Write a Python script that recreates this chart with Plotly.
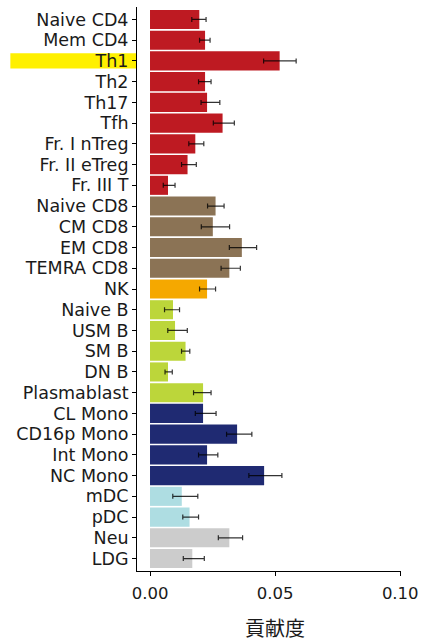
import plotly.graph_objects as go

# Cell types, top to bottom
cell_types = [
    "Naive CD4", "Mem CD4", "Th1", "Th2", "Th17", "Tfh", "Fr. I nTreg",
    "Fr. II eTreg", "Fr. III T", "Naive CD8", "CM CD8", "EM CD8", "TEMRA CD8",
    "NK", "Naive B", "USM B", "SM B", "DN B", "Plasmablast", "CL Mono",
    "CD16p Mono", "Int Mono", "NC Mono", "mDC", "pDC", "Neu", "LDG",
]

# Contribution (mean) and error interval bounds
contribution = [
    0.0197, 0.0220, 0.0518, 0.0220, 0.0228, 0.0290, 0.0181,
    0.0150, 0.0072, 0.0262, 0.0251, 0.0367, 0.0317,
    0.0228, 0.0092, 0.0100, 0.0142, 0.0072, 0.0212, 0.0212,
    0.0348, 0.0228, 0.0456, 0.0127, 0.0158, 0.0317, 0.0169,
]
err_low = [
    0.0167, 0.0198, 0.0454, 0.0194, 0.0204, 0.0253, 0.0155,
    0.0126, 0.0053, 0.0230, 0.0205, 0.0317, 0.0284,
    0.0198, 0.0058, 0.0071, 0.0126, 0.0060, 0.0174, 0.0181,
    0.0306, 0.0194, 0.0395, 0.0091, 0.0131, 0.0273, 0.0133,
]
err_high = [
    0.0224, 0.0240, 0.0584, 0.0244, 0.0279, 0.0337, 0.0215,
    0.0185, 0.0100, 0.0296, 0.0318, 0.0426, 0.0361,
    0.0262, 0.0118, 0.0149, 0.0159, 0.0089, 0.0244, 0.0264,
    0.0407, 0.0271, 0.0527, 0.0191, 0.0194, 0.0370, 0.0217,
]

# Lineage group of each cell type
lineage = (
    ["CD4"] * 9 + ["CD8"] * 4 + ["NK"] + ["B"] * 5 + ["Mono"] * 4
    + ["DC"] * 2 + ["Gran"] * 2
)
lineage_colors = {
    "CD4": "#BE1A22",
    "CD8": "#8B7355",
    "NK": "#F5A800",
    "B": "#BCD63A",
    "Mono": "#1F2A72",
    "DC": "#AEDDE2",
    "Gran": "#CCCCCC",
}

highlight = "Th1"
x_ticks = [0.0, 0.05, 0.10]
x_tick_text = ["0.00", "0.05", "0.10"]
x_title = "貢献度"

font_family = "DejaVu Sans, sans-serif"
n = len(cell_types)

# plot area in pixels
W, H = 426, 643
ML, MR, MT, MB = 137, 18, 7, 72
plot_h = H - MT - MB

fig = go.Figure(
    go.Bar(
        x=contribution,
        y=cell_types,
        orientation="h",
        marker=dict(color=[lineage_colors[g] for g in lineage], line=dict(width=0)),
        error_x=dict(
            type="data",
            symmetric=False,
            array=[h - c for h, c in zip(err_high, contribution)],
            arrayminus=[c - l for c, l in zip(contribution, err_low)],
            color="rgba(0,0,0,0.8)",
            thickness=1.2,
            width=2.5,
        ),
        width=0.92,
        hoverinfo="x+y",
    )
)

# Highlighted label band
hi = cell_types.index(highlight)
fig.add_shape(
    type="rect",
    xref="paper", yref="y",
    x0=-130 / (W - ML - MR), x1=0.0,
    y0=hi - 0.37, y1=hi + 0.37,
    fillcolor="#FFF000",
    line=dict(width=0),
    layer="below",
)

# Axis title, centred on the 0.05 tick
fig.add_annotation(
    x=0.05, xref="x",
    y=-(628 - (H - MB)) / plot_h, yref="paper",
    yanchor="middle",
    text=x_title,
    showarrow=False,
    font=dict(family="Noto Sans CJK JP", size=20, color="#1a1a1a"),
)

fig.update_layout(
    width=W,
    height=H,
    margin=dict(l=ML, r=MR, t=MT, b=MB),
    paper_bgcolor="white",
    plot_bgcolor="white",
    showlegend=False,
    font=dict(family=font_family, size=17.5, color="#1a1a1a"),
    xaxis=dict(
        range=[-0.0052, 0.1003],
        tickmode="array",
        tickvals=x_ticks,
        ticktext=x_tick_text,
        ticks="outside",
        ticklen=4,
        tickcolor="black",
        ticklabelstandoff=3,
        showline=True,
        linecolor="black",
        linewidth=1,
        showgrid=False,
        zeroline=False,
        tickfont=dict(size=16.5),
    ),
    yaxis=dict(
        type="category",
        categoryorder="array",
        categoryarray=cell_types,
        tickmode="array",
        tickvals=cell_types,
        ticktext=cell_types,
        range=[n - 1 + 0.6, -0.6],
        ticks="outside",
        ticklen=4,
        tickcolor="black",
        showline=True,
        linecolor="black",
        linewidth=1,
        showgrid=False,
        zeroline=False,
        tickfont=dict(size=17.5),
    ),
)

fig.write_html("out.html")
